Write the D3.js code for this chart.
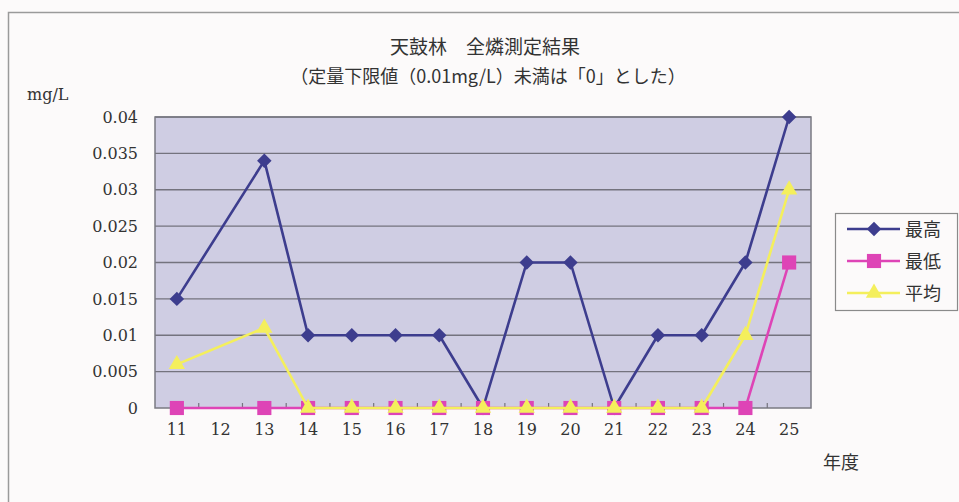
<!DOCTYPE html>
<html>
<head>
<meta charset="utf-8">
<script src="https://cdn.jsdelivr.net/npm/d3@7"></script>
<style>
  html, body { margin: 0; padding: 0; background: #fcfafa; }
  svg { display: block; }
  text { fill: #333; }
  .serif { font-family: "DejaVu Serif", "Noto Sans CJK JP", serif; }
  .cjk { font-family: "Noto Sans CJK JP", sans-serif; }
</style>
</head>
<body>
<svg id="chart" width="959" height="502"></svg>
<script>
// Fiscal years (category axis)
const years = ["11", "12", "13", "14", "15", "16", "17", "18", "19", "20", "21", "22", "23", "24", "25"];
// Total phosphorus, mg/L (null = not measured)
const maxValues = [0.015, null, 0.034, 0.01, 0.01, 0.01, 0.01, 0, 0.02, 0.02, 0, 0.01, 0.01, 0.02, 0.04];
const minValues = [0, null, 0, 0, 0, 0, 0, 0, 0, 0, 0, 0, 0, 0, 0.02];
const avgValues = [0.006, null, 0.011, 0, 0, 0, 0, 0, 0, 0, 0, 0, 0, 0.01, 0.03];
const yTicks = [0, 0.005, 0.01, 0.015, 0.02, 0.025, 0.03, 0.035, 0.04];
const yTickLabels = ["0", "0.005", "0.01", "0.015", "0.02", "0.025", "0.03", "0.035", "0.04"];
const seriesNames = ["最高", "最低", "平均"];
const titleLines = ["天鼓林　全燐測定結果", "（定量下限値（0.01mg/L）未満は「0」とした）"];

const series = [
  { name: seriesNames[0], values: maxValues, color: "#3d3d8e", symbol: d3.symbolSquare, size: 105, rotate: 45 },
  { name: seriesNames[1], values: minValues, color: "#de44b6", symbol: d3.symbolSquare, size: 200, rotate: 0 },
  { name: seriesNames[2], values: avgValues, color: "#f4ef5c", symbol: d3.symbolTriangle, size: 115, rotate: 0 }
];

const svg = d3.select("#chart");
const plot = { left: 155, top: 117, right: 811, bottom: 408 };

// outer chart frame
svg.append("rect")
  .attr("x", 8.5).attr("y", 12.5)
  .attr("width", 1000).attr("height", 600)
  .attr("fill", "#fcfafa").attr("stroke", "#9a9a9a").attr("stroke-width", 1.5);

const x = d3.scaleBand().domain(years).range([plot.left, plot.right]);
const xc = d => x(d) + x.bandwidth() / 2;
const y = d3.scaleLinear().domain([0, 0.04]).range([plot.bottom, plot.top]);

// plot area
svg.append("rect")
  .attr("x", plot.left).attr("y", plot.top)
  .attr("width", plot.right - plot.left).attr("height", plot.bottom - plot.top)
  .attr("fill", "#cfcde3");

// horizontal gridlines
svg.append("g")
  .selectAll("line").data(yTicks.slice(1)).join("line")
  .attr("x1", plot.left).attr("x2", plot.right)
  .attr("y1", d => y(d)).attr("y2", d => y(d))
  .attr("stroke", "#74737e").attr("stroke-width", 1.3);

// plot border
svg.append("rect")
  .attr("x", plot.left).attr("y", plot.top)
  .attr("width", plot.right - plot.left).attr("height", plot.bottom - plot.top)
  .attr("fill", "none").attr("stroke", "#7a7a82").attr("stroke-width", 1.5);

// y axis labels
const yAxis = d3.axisLeft(y).tickValues(yTicks)
  .tickFormat((d, i) => yTickLabels[i]).tickSize(0).tickPadding(17);
const gy = svg.append("g").attr("transform", `translate(${plot.left},0)`).call(yAxis);
gy.select(".domain").remove();
gy.selectAll("text").attr("font-size", 16).attr("fill", "#333")
  .style("font-family", "'DejaVu Serif', serif");

// x axis: labels under category centres, small inward ticks at category boundaries
const xAxis = d3.axisBottom(x).tickSize(0).tickPadding(16);
const gx = svg.append("g").attr("transform", `translate(0,${plot.bottom})`).call(xAxis);
gx.select(".domain").remove();
gx.selectAll("text").attr("font-size", 16).attr("fill", "#333")
  .style("font-family", "'DejaVu Serif', serif");

svg.append("g")
  .selectAll("line").data(years.slice(1)).join("line")
  .attr("x1", d => x(d)).attr("x2", d => x(d))
  .attr("y1", plot.bottom).attr("y2", plot.bottom - 5)
  .attr("stroke", "#74737e").attr("stroke-width", 1.2);

// series lines (gaps are bridged) and markers
const line = d3.line().x(d => xc(d.year)).y(d => y(d.value));
series.forEach(s => {
  const pts = years.map((yr, i) => ({ year: yr, value: s.values[i] })).filter(p => p.value !== null);
  svg.append("path").datum(pts)
    .attr("d", line).attr("fill", "none")
    .attr("stroke", s.color).attr("stroke-width", 2.6).attr("stroke-linejoin", "round");
  svg.append("g").selectAll("path").data(pts).join("path")
    .attr("transform", d => `translate(${xc(d.year)},${y(d.value)}) rotate(${s.rotate})`)
    .attr("d", d3.symbol(s.symbol, s.size))
    .attr("fill", s.color);
});

// titles
svg.append("text").attr("class", "cjk")
  .attr("x", 485).attr("y", 54).attr("text-anchor", "middle")
  .attr("font-size", 19).attr("fill", "#333")
  .text(titleLines[0]);
svg.append("text").attr("class", "cjk")
  .attr("x", 488).attr("y", 83).attr("text-anchor", "middle")
  .attr("font-size", 18).attr("fill", "#333")
  .text(titleLines[1]);

// unit label and axis title
svg.append("text").attr("class", "serif").attr("x", 27).attr("y", 100)
  .attr("font-size", 16).attr("fill", "#333").text("mg/L");
svg.append("text").attr("class", "cjk").attr("x", 823).attr("y", 469)
  .attr("font-size", 18).attr("fill", "#333").text("年度");

// legend
const lg = svg.append("g");
lg.append("rect").attr("x", 835.5).attr("y", 213.5).attr("width", 122).attr("height", 97)
  .attr("fill", "#fcfafa").attr("stroke", "#8a8a8a").attr("stroke-width", 1.2);
series.forEach((s, i) => {
  const cy = 229 + i * 32;
  lg.append("line").attr("x1", 847).attr("x2", 900).attr("y1", cy).attr("y2", cy)
    .attr("stroke", s.color).attr("stroke-width", 2.6);
  lg.append("path").attr("transform", `translate(874,${cy}) rotate(${s.rotate})`)
    .attr("d", d3.symbol(s.symbol, s.size)).attr("fill", s.color);
  lg.append("text").attr("class", "cjk").attr("x", 905).attr("y", cy + 7)
    .attr("font-size", 18).attr("fill", "#333").text(s.name);
});
</script>
</body>
</html>
